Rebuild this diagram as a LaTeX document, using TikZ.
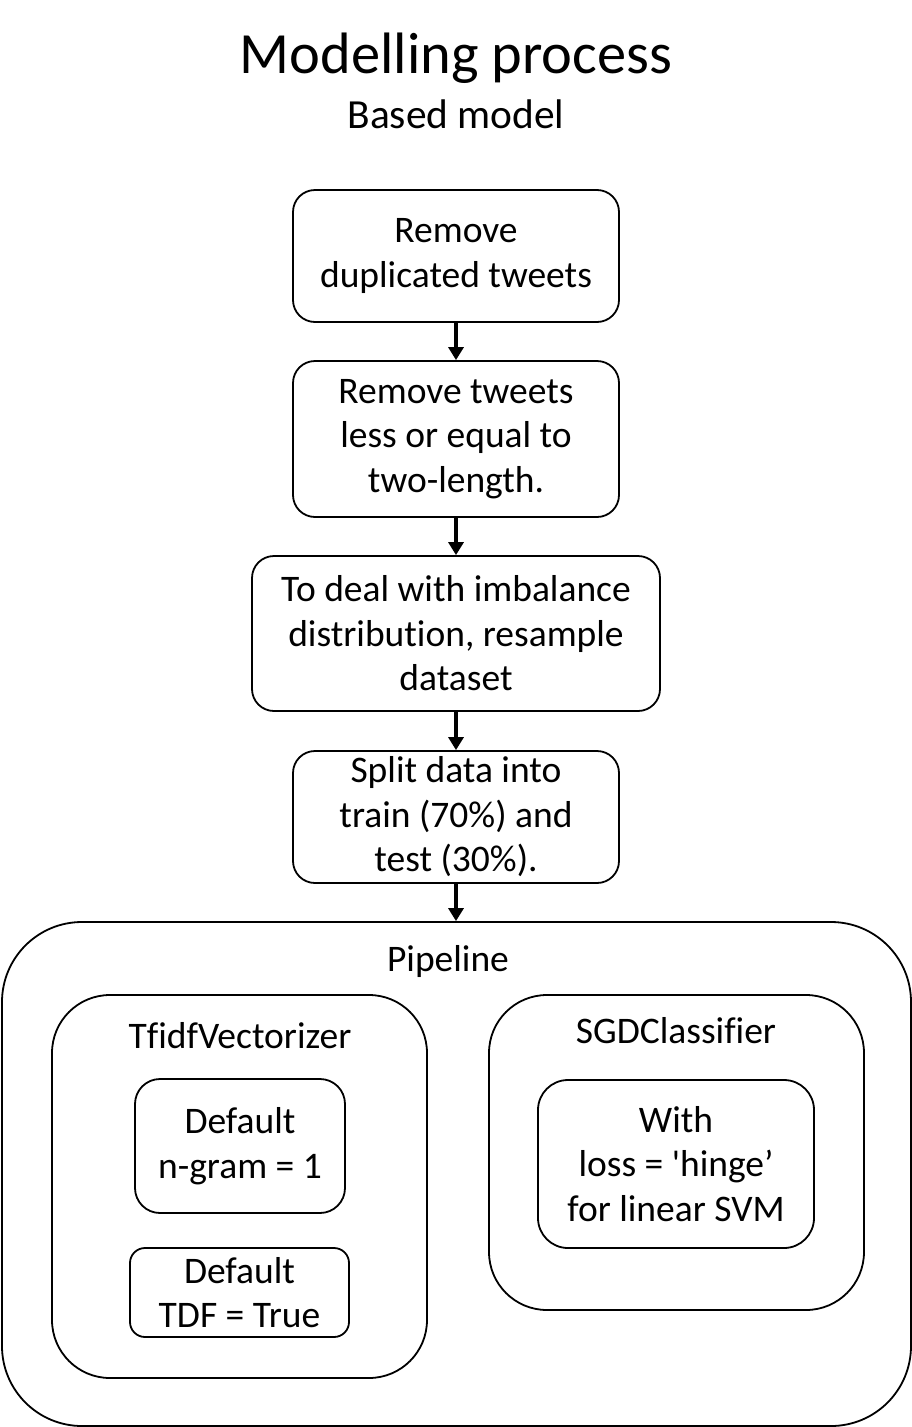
\documentclass[tikz,border=0pt]{standalone}
\usepackage{fontspec}
\setmainfont[Ligatures={TeXOff,CommonOff}]{Carlito}
\usetikzlibrary{arrows.meta}
\begin{document}
\begin{tikzpicture}[x=1pt,y=-1pt,
  box/.style={draw, line width=1.8pt, rounded corners=#1, inner sep=0pt, align=center,
    font=\fontsize{37.5}{44.5}\selectfont},
  lbl/.style={inner sep=0pt, font=\fontsize{37.5}{44.5}\selectfont},
  arr/.style={line width=4pt, -{Triangle[length=13pt,width=15pt]}}
]
\useasboundingbox (0,0) rectangle (912,1427);
\node[inner sep=0pt, font=\fontsize{58.4}{60}\selectfont] (title) at (456,58) {Modelling process};
\node[inner sep=0pt, font=\fontsize{41.4}{44}\selectfont] (sub) at (456,114) {Based model};

\node[box=22pt, minimum width=326pt, minimum height=132pt] (b1) at (456,256) {Remove\\duplicated tweets};
\node[box=22pt, minimum width=326pt, minimum height=156pt] (b2) at (456,439) {Remove tweets\\less or equal to\\two-length.};
\node[box=22pt, minimum width=408pt, minimum height=155pt] (b3) at (456,633.5) {To deal with imbalance\\distribution, resample\\dataset};
\node[box=22pt, minimum width=326pt, minimum height=132pt] (b4) at (456,817) {Split data into\\train (70\%) and\\test (30\%).};

\node[box=80pt, minimum width=909pt, minimum height=504pt] (pipe) at (456.5,1174) {};
\node[lbl] (pipel) at (448,961) {Pipeline};

\node[box=58pt, minimum width=375pt, minimum height=383pt] (tfidf) at (239.5,1186.5) {};
\node[lbl] (tfidfl) at (240,1036) {TfidfVectorizer};
\node[box=25pt, minimum width=210pt, minimum height=134pt] (d1) at (240,1146) {Default\\n-gram = 1};
\node[box=15pt, minimum width=219pt, minimum height=89pt] (d2) at (239.5,1292.5) {Default\\TDF = True};

\node[box=58pt, minimum width=375pt, minimum height=315pt] (sgd) at (676.5,1152.5) {};
\node[lbl] (sgdl) at (676,1031) {SGDClassifier};
\node[box=30pt, minimum width=276pt, minimum height=168pt] (with) at (676,1164) {With\\loss = 'hinge’\\for linear SVM};

\draw[arr] (b1.south) -- (b2.north);
\draw[arr] (b2.south) -- (b3.north);
\draw[arr] (b3.south) -- (b4.north);
\draw[arr] (b4.south) -- (b4.south |- pipe.north);
\end{tikzpicture}
\end{document}
